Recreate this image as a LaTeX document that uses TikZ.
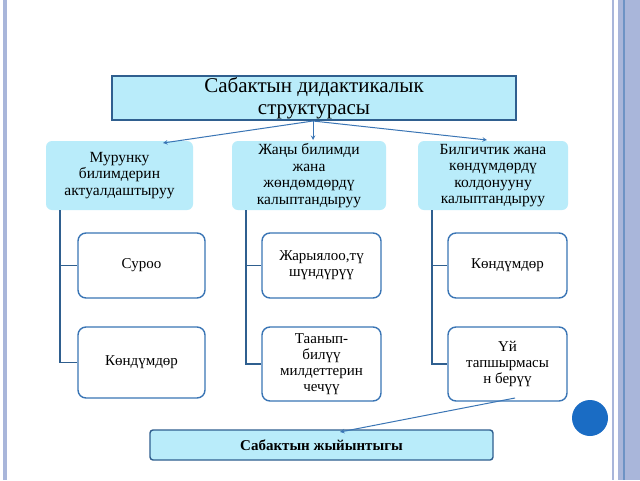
\documentclass[tikz,border=0pt]{standalone}
\usepackage{fontspec}
\setmainfont{Liberation Serif}
\definecolor{bord}{HTML}{3A75B5}
\definecolor{tbord}{HTML}{2F5F8F}
\definecolor{lcyan}{HTML}{B9ECFA}
\definecolor{stripe}{HTML}{A9B6DA}
\definecolor{stripeD}{HTML}{6D93C5}
\definecolor{circ}{HTML}{1A6CC4}
\begin{document}
\begin{tikzpicture}[x=1pt,y=-1pt,
 ln/.style={draw=tbord,line width=1.3pt},
 ar/.style={draw=bord,line width=1pt,->,>=stealth},
 lvl/.style={fill=lcyan,rounded corners=6pt,align=center,font=\fontsize{15.5}{16.5}\selectfont,inner sep=0pt},
 kid/.style={draw=bord,line width=1.4pt,fill=white,rounded corners=8pt,align=center,font=\fontsize{15}{16}\selectfont,inner sep=0pt}]
\useasboundingbox (0,0) rectangle (640,480);
\fill[white] (0,0) rectangle (640,480);
\fill[stripe] (3,0) rectangle (7,480);
\fill[stripe] (612,0) rectangle (614,480);
\fill[stripe] (618,0) rectangle (640,480);
\fill[stripeD] (623,0) rectangle (625,480);
\node[draw=tbord,line width=1.4pt,fill=lcyan,minimum width=404pt,minimum height=44pt,align=center,font=\fontsize{21}{22}\selectfont,inner sep=0pt] (t) at (314,98) {Сабактын дидактикалык\\структурасы};
\node[lvl,minimum width=147pt,minimum height=69pt] (a) at (119.5,175.5) {Мурунку\\билимдерин\\актуалдаштыруу};
\node[lvl,minimum width=154pt,minimum height=69pt] (b) at (309,175.5) {Жаңы билимди\\жана\\жөндөмдөрдү\\калыптандыруу};
\node[lvl,minimum width=150pt,minimum height=69pt] (c) at (493,175.5) {Билгичтик жана\\көндүмдөрдү\\колдонууну\\калыптандыруу};
\node[kid,minimum width=127pt,minimum height=65pt] (a1) at (141.5,265.5) {Суроо};
\node[kid,minimum width=127pt,minimum height=71pt] (a2) at (141.5,362.5) {Көндүмдөр};
\node[kid,minimum width=119pt,minimum height=65pt] (b1) at (321.5,265.5) {Жарыялоо,тү\\шүндүрүү};
\node[kid,minimum width=119pt,minimum height=74pt] (b2) at (321.5,364) {Таанып-\\билүү\\милдеттерин\\чечүү};
\node[kid,minimum width=119pt,minimum height=65pt] (c1) at (507.5,265.5) {Көндүмдөр};
\node[kid,minimum width=119pt,minimum height=74pt] (c2) at (507.5,364) {Үй\\тапшырмасы\\н берүү};
\node[draw=tbord,line width=1.4pt,fill=lcyan,rounded corners=3pt,minimum width=343pt,minimum height=30pt,font=\bfseries\fontsize{15}{16}\selectfont,inner sep=0pt] (s) at (321.5,445) {Сабактын жыйынтыгы};
\fill[circ] (590,418) circle (18);
\draw[ln] (60,210) |- (a1.west);
\draw[ln] (60,265) |- (a2.west);
\draw[ln] (246,210) |- (b1.west);
\draw[ln] (246,265) |- (b2.west);
\draw[ln] (432,210) |- (c1.west);
\draw[ln] (432,265) |- (c2.west);
\coordinate (tb) at (313,121);
\draw[ar] (tb) -- (163,143);
\draw[ar] (tb) -- (313,140);
\draw[ar] (tb) -- (487,140);
\draw[ar] (515,398) -- (340,432);
\end{tikzpicture}
\end{document}
